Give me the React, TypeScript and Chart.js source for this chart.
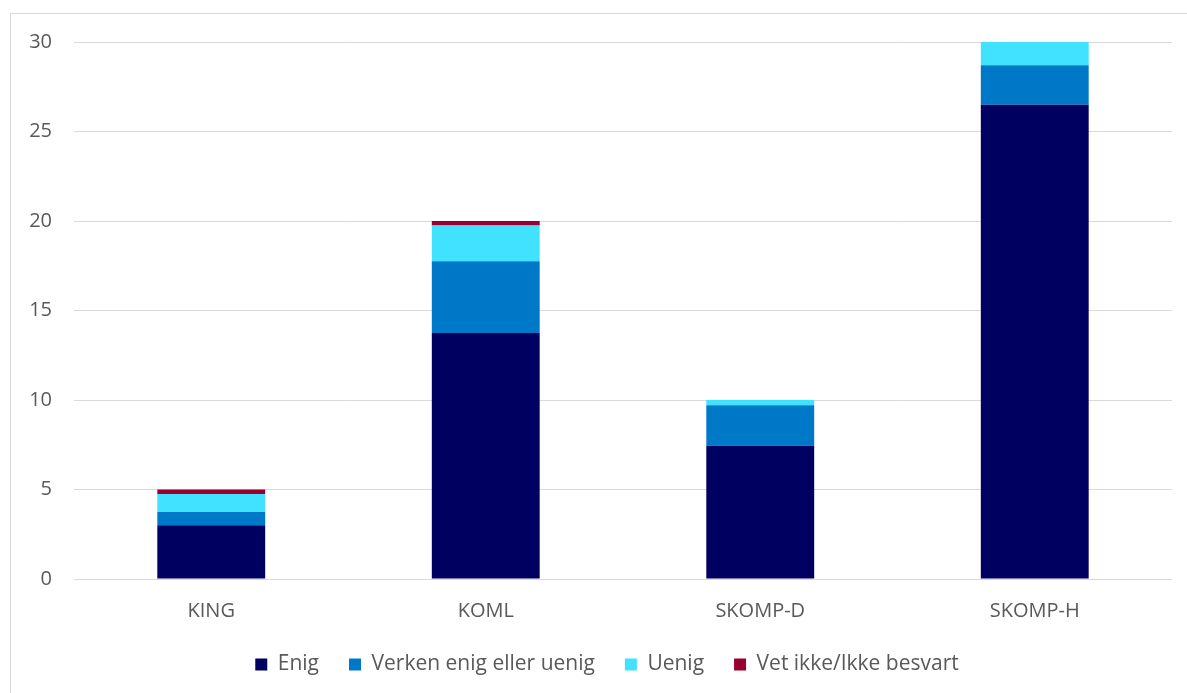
import React, { useEffect, useRef } from "react";
import { Chart, registerables } from "chart.js";

Chart.register(...registerables);

const categories = ["KING", "KOML", "SKOMP-D", "SKOMP-H"];
const seriesNames = ["Enig", "Verken enig eller uenig", "Uenig", "Vet ikke/Ikke besvart"];
const enig = [3, 13.75, 7.45, 26.5];
const verken = [0.75, 4, 2.25, 2.2];
const uenig = [1, 2, 0.3, 1.3];
const vetIkke = [0.25, 0.25, 0, 0];
const colors = ["#000060", "#0078C8", "#41E2FF", "#990030"];
const yTicks = [0, 5, 10, 15, 20, 25, 30];

const FONT = "'Open Sans'";
const TEXT = "#595959";
const GRID = "#d9d9d9";

const legendShift = {
  id: "legendShift",
  afterLayout(chart: any) {
    const lg = chart.legend;
    if (lg) {
      lg.left = 42;
      lg.width = lg.right - lg.left;
      lg.top -= 19;
      lg.bottom -= 19;
    }
  },
};

export default function App() {
  const ref = useRef<HTMLCanvasElement>(null);
  useEffect(() => {
    document.body.style.margin = "0";
    document.body.style.overflow = "hidden";
    const ctx = ref.current!;
    const values = [enig, verken, uenig, vetIkke];
    const chart = new Chart(ctx, {
      type: "bar",
      data: {
        labels: categories,
        datasets: seriesNames.map((name, i) => ({
          label: name,
          data: values[i],
          backgroundColor: colors[i],
          borderWidth: 0,
          categoryPercentage: 1,
          barPercentage: 0.393,
        })),
      },
      plugins: [legendShift],
      options: {
        animation: false,
        responsive: false,
        layout: { padding: { left: 0, right: 15, top: 42, bottom: -11 } },
        plugins: {
          tooltip: { enabled: false },
          legend: {
            position: "bottom",
            labels: {
              boxWidth: 12,
              boxHeight: 12,
              padding: 30,
              color: TEXT,
              font: { family: FONT, size: 21 },
            },
          },
        },
        scales: {
          x: {
            stacked: true,
            grid: { display: false, drawTicks: false },
            border: { display: false },
            ticks: { color: TEXT, font: { family: FONT, size: 20 }, padding: 20 },
          },
          y: {
            stacked: true,
            min: 0,
            max: 30,
            afterFit: (s: any) => { s.width = 74; },
            afterBuildTicks: (s: any) => { s.ticks = yTicks.map((v) => ({ value: v })); },
            grid: { color: GRID, lineWidth: 1, drawTicks: false },
            border: { display: false },
            ticks: { color: TEXT, font: { family: FONT, size: 20 }, padding: 22 },
          },
        },
      },
    });
    return () => chart.destroy();
  }, []);
  return (
    <div style={{ position: "relative", width: 1187, height: 693, overflow: "hidden" }}>
      <div style={{ position: "absolute", left: 10, top: 13, width: 1300, height: 800, border: "1px solid #d9d9d9", boxSizing: "border-box" }} />
      <canvas ref={ref} width={1187} height={693} style={{ position: "absolute", left: 0, top: 0 }} />
    </div>
  );
}
